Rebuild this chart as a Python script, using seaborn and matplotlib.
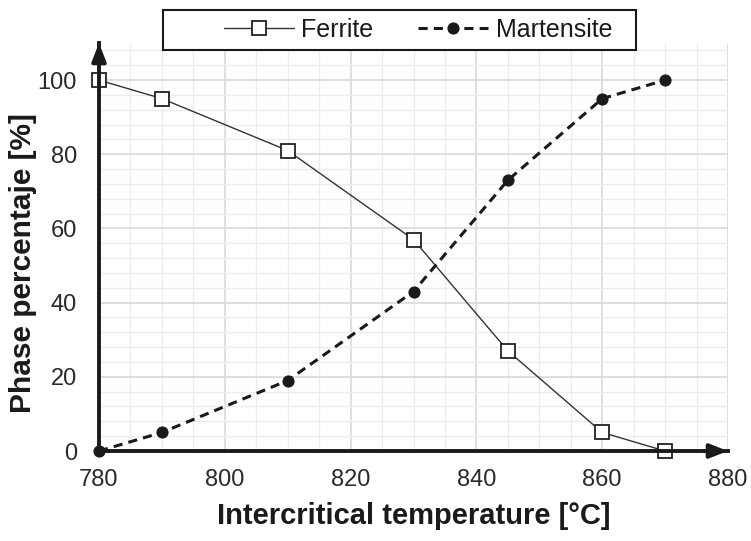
import matplotlib
matplotlib.use("Agg")
import matplotlib.pyplot as plt
import seaborn as sns
import numpy as np
import pandas as pd
from matplotlib.ticker import MultipleLocator
from matplotlib.patches import Rectangle

temperature = [780, 790, 810, 830, 845, 860, 870]
ferrite = [100, 95, 81, 57, 27, 5, 0]
martensite = [0, 5, 19, 43, 73, 95, 100]
x_major_ticks = [780, 800, 820, 840, 860, 880]
y_major_ticks = [0, 20, 40, 60, 80, 100]

sns.set_theme(style="white")
plt.rcParams['font.family'] = ['Liberation Sans', 'DejaVu Sans']

W, H = 751, 541
fig = plt.figure(figsize=(W / 100, H / 100), dpi=100)
ax = fig.add_axes([99 / W, 1 - 451 / H, (728 - 99) / W, (451 - 43) / H])

df_f = pd.DataFrame({"T": temperature, "v": ferrite})
df_m = pd.DataFrame({"T": temperature, "v": martensite})

sns.lineplot(data=df_f, x="T", y="v", ax=ax, color="#333333", linewidth=1.0,
             marker="s", markersize=10.5, markerfacecolor="white",
             markeredgecolor="#222222", markeredgewidth=1.3, label="Ferrite",
             zorder=5, clip_on=False)
sns.lineplot(data=df_m, x="T", y="v", ax=ax, color="#1a1a1a", linewidth=2.2,
             linestyle=(0, (3, 2)), marker="o", markersize=8,
             markerfacecolor="#1a1a1a", markeredgecolor="#1a1a1a",
             label="Martensite", zorder=6, clip_on=False)

ax.set_xlim(780, 880)
ax.set_ylim(0, 110)
ax.set_xticks(x_major_ticks)
ax.set_yticks(y_major_ticks)
ax.xaxis.set_minor_locator(MultipleLocator(5))
ax.yaxis.set_minor_locator(MultipleLocator(4))
ax.grid(which="minor", color="#ececec", linewidth=1.0, zorder=0)
ax.grid(which="major", color="#d9d9d9", linewidth=1.2, zorder=0)
ax.set_axisbelow(True)

for s in ["top", "right"]:
    ax.spines[s].set_visible(False)
for s in ["left", "bottom"]:
    ax.spines[s].set_color("#1a1a1a")
    ax.spines[s].set_linewidth(2.8)
    ax.spines[s].set_zorder(7)

ax.tick_params(axis="both", which="both", direction="out", color="#1a1a1a",
               width=2.5, labelsize=17, labelcolor="#2a2a2a")
ax.tick_params(axis="x", which="both", length=6, pad=7)
ax.tick_params(axis="y", which="major", length=6, pad=10)
ax.tick_params(axis="y", which="minor", length=0)

# axis arrows
ax.annotate("", xy=(1.0, 0), xytext=(0.96, 0), xycoords="axes fraction",
            arrowprops=dict(arrowstyle="-|>,head_length=0.9,head_width=0.35",
                            color="#1a1a1a", lw=2.8, shrinkA=0, shrinkB=0),
            annotation_clip=False, zorder=8)
ax.annotate("", xy=(0, 1.0), xytext=(0, 0.94), xycoords="axes fraction",
            arrowprops=dict(arrowstyle="-|>,head_length=0.9,head_width=0.35",
                            color="#1a1a1a", lw=2.8, shrinkA=0, shrinkB=0),
            annotation_clip=False, zorder=8)

ax.set_xlabel("Intercritical temperature [°C]", fontsize=21, fontweight="bold",
              color="#1a1a1a", labelpad=8)
ax.set_ylabel("Phase percentaje [%]", fontsize=21.5, fontweight="bold",
              color="#1a1a1a")
ax.yaxis.set_label_coords(-0.099, 0.461)

ax.get_legend().remove()
handles, labels = ax.get_legend_handles_labels()

# legend frame
fig.patches.append(Rectangle((163 / W, 1 - 50 / H), (636 - 163) / W, 40 / H,
                             transform=fig.transFigure, facecolor="white",
                             edgecolor="#1a1a1a", linewidth=1.5, zorder=9))
leg = fig.legend(handles, labels, ncol=2, loc="center",
                 bbox_to_anchor=(418 / W, 1 - 30 / H), frameon=False,
                 fontsize=18, handlelength=2.8, columnspacing=1.8,
                 handletextpad=0.3, borderaxespad=0, borderpad=0)
for t in leg.get_texts():
    t.set_color("#1a1a1a")
leg.set_zorder(10)

fig.savefig("out.png", dpi=100)
